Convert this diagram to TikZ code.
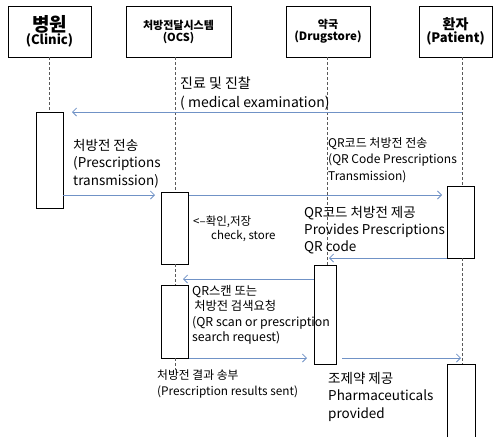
\documentclass[tikz,border=0pt]{standalone}
\usepackage{fontspec}
\setmainfont{Noto Sans CJK KR}
\usetikzlibrary{arrows.meta}
\definecolor{msgblue}{RGB}{112,146,198}
\tikzset{
  head/.style={draw, thick, minimum height=51pt, inner sep=0pt, align=center, font=\bfseries},
  act/.style={draw, thick, minimum width=27pt, inner sep=0pt},
  life/.style={densely dashed, thick, gray!70!black},
  msg/.style={msgblue, thick, -{Straight Barb[length=4pt,width=8pt]}},
  txt/.style={anchor=north west, inner sep=0pt, align=left, font=\fontsize{12.5}{16.5}\selectfont},
  small/.style={anchor=north west, inner sep=0pt, align=left, font=\fontsize{11.5}{14}\selectfont}
}
\begin{document}
\begin{tikzpicture}[x=1pt,y=-1pt]
\useasboundingbox (0,0) rectangle (502,437);
\node[head, minimum width=83pt] (clinic) at (49.5,31.5){{\fontsize{19}{22}\selectfont 병원}\\[-1pt]{\fontsize{13}{16}\selectfont (Clinic)}};
\node[head, minimum width=105pt] (ocs) at (178.5,31.5){{\fontsize{11}{14}\selectfont 처방전달시스템}\\{\fontsize{11}{14}\selectfont (OCS)}};
\node[head, minimum width=84pt] (drug) at (328,31.5){{\fontsize{11}{14}\selectfont 약국}\\{\fontsize{11.5}{14}\selectfont (Drugstore)}};
\node[head, minimum width=73pt] (patient) at (455.5,31.5){{\fontsize{14}{17}\selectfont 환자}\\{\fontsize{13}{16}\selectfont (Patient)}};
\node[act, minimum height=96pt] (cbox) at (49.5,160){};
\node[act, minimum height=72pt] (obox1) at (175,228){};
\node[act, minimum height=73pt] (obox2) at (175,321.5){};
\node[act, minimum width=22pt, minimum height=99pt] (dbox) at (325,314.5){};
\node[act, minimum height=72pt] (pbox1) at (460.5,222){};
\draw[thick] (447,437) |- (475,364) coordinate (pbox2) -- (475,437);
\coordinate (pend) at (462,112);
\coordinate (oend) at (175,370);
\draw[life] (clinic.south -| cbox.north) -- (cbox.north);
\draw[life] (175,57) -- (obox1.north);
\draw[life] (obox1.south) -- (obox2.north);
\draw[life] (obox2.south) -- (oend);
\draw[life] (327,57) -- (327,265);
\draw[life] (462,57) -- (462,186);
\draw[life] (462,258) -- (462,364);
\node[txt, font=\fontsize{14}{19}\selectfont] (t1) at (180,77){진료 및 진찰\\( medical examination)};
\draw[msg] (pend) -- (72,112);
\node[txt, font=\fontsize{13.5}{17.5}\selectfont] (t2) at (73,139){처방전 전송\\(Prescriptions\\transmission)};
\draw[msg] (cbox.east |- 0,195) -- (155,195);
\node[txt, font=\fontsize{12}{16.5}\selectfont] (t3) at (328,137){QR코드 처방전 전송\\(QR Code Prescriptions\\Transmission)};
\draw[msg] (obox1.east |- 0,195) -- (442,195);
\node[small] (t4) at (193,216){<--확인,저장\\\hspace*{18pt}check, store};
\node[txt, font=\fontsize{13.5}{17}\selectfont] (t5) at (304,206){QR코드 처방전 제공\\Provides Prescriptions\\QR code};
\draw[msg] (pbox1.west |- 0,258) -- (329,258);
\draw[msg] (dbox.west |- 0,279) -- (183,279);
\node[small, font=\fontsize{12.3}{15.5}\selectfont] (t6) at (192,285){QR스캔 또는\\ \,처방전 검색요청\\(QR scan or prescription\\search request)};
\draw[msg] (obox2.east |- 0,358) -- (307,358);
\draw[msg] (342,358) -- (461,358);
\node[small, font=\fontsize{11.8}{16}\selectfont] (t7) at (157,370){처방전 결과 송부\\(Prescription results sent)};
\node[txt, font=\fontsize{13.5}{17.5}\selectfont] (t8) at (328,372){조제약 제공\\Pharmaceuticals\\provided};
\end{tikzpicture}
\end{document}
